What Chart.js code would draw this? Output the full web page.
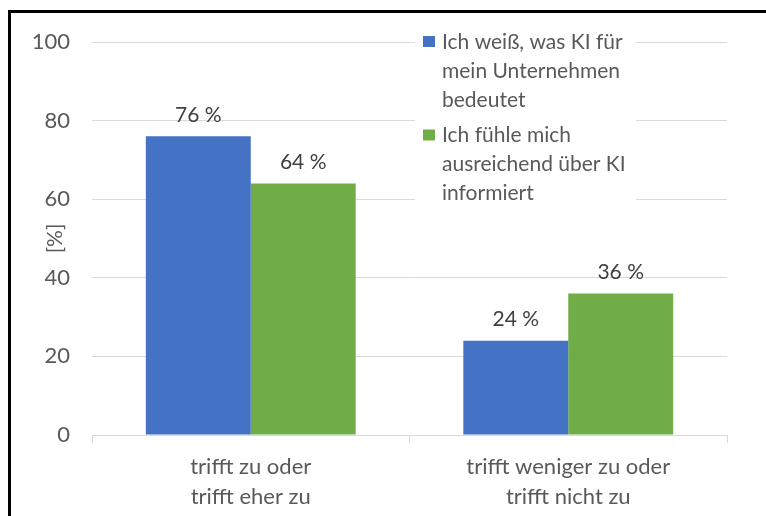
<!DOCTYPE html>
<html lang="de">
<head>
<meta charset="utf-8">
<title>KI im Unternehmen</title>
<script src="https://cdn.jsdelivr.net/npm/chart.js@4.4.1/dist/chart.umd.min.js"></script>
<style>
  html, body { margin: 0; padding: 0; background: #fff; }
  #buehne { position: relative; width: 766px; height: 516px; overflow: hidden; }
  #rahmen {
    position: absolute; left: 8px; top: 10px; width: 900px; height: 700px;
    border-left: 3px solid #000; border-top: 3px solid #000;
  }
  #grafik { position: absolute; left: 0; top: 0; }
</style>
</head>
<body>
<div id="buehne">
  <div id="rahmen"></div>
  <canvas id="grafik" width="766" height="516"></canvas>
</div>
<script>
// ---- Daten ----
const KATEGORIEN = [
  ['trifft zu oder', 'trifft eher zu'],
  ['trifft weniger zu oder', 'trifft nicht zu'],
];
const SERIEN = [
  ['Ich weiß, was KI für', 'mein Unternehmen', 'bedeutet'],
  ['Ich fühle mich', 'ausreichend über KI', 'informiert'],
];
const WERTE_WISSEN    = [76, 24];
const WERTE_INFORMIERT = [64, 36];
const Y_TICKS = [0, 20, 40, 60, 80, 100];

const BLAU  = '#4472C4';
const GRUEN = '#70AD47';
const TEXT  = '#595959';
const GITTER = '#D9D9D9';
const SCHRIFT = 'Lato, "Open Sans", sans-serif';

Chart.defaults.font.family = SCHRIFT;
Chart.defaults.color = TEXT;

// ---- Beschriftungen über den Balken ----
const wertLabels = {
  id: 'wertLabels',
  afterDatasetsDraw(chart) {
    const ctx = chart.ctx;
    ctx.save();
    ctx.font = `21px ${SCHRIFT}`;
    ctx.fillStyle = '#404040';
    ctx.textAlign = 'center';
    ctx.textBaseline = 'middle';
    chart.data.datasets.forEach((ds, i) => {
      chart.getDatasetMeta(i).data.forEach((bar, j) => {
        ctx.fillText(`${ds.data[j]} %`, bar.x, bar.y - 21);
      });
    });
    ctx.restore();
  }
};

// ---- Legende im Diagramm + Achsentitel ----
const legendeInnen = {
  id: 'legendeInnen',
  afterDatasetsDraw(chart) {
    const { ctx, chartArea } = chart;
    const x0 = chartArea.left + 323;
    const y0 = chartArea.top;
    ctx.save();
    ctx.fillStyle = '#fff';
    ctx.fillRect(x0, y0 - 14, 221, 178);

    ctx.font = `21px ${SCHRIFT}`;
    ctx.textAlign = 'left';
    ctx.textBaseline = 'middle';
    let y = y0;
    chart.data.datasets.forEach((ds, i) => {
      ctx.fillStyle = ds.backgroundColor;
      ctx.fillRect(x0 + 8, y - 6, 12, 11);
      ctx.fillStyle = TEXT;
      SERIEN[i].forEach((zeile, k) => {
        ctx.fillText(zeile, x0 + 27, y + k * 29);
      });
      y += (SERIEN[i].length - 1) * 29 + 35.5;
    });

    // Achsentitel [%]
    ctx.translate(chartArea.left - 37, (chartArea.top + chartArea.bottom) / 2);
    ctx.rotate(-Math.PI / 2);
    ctx.textAlign = 'center';
    ctx.font = `21px ${SCHRIFT}`;
    ctx.fillStyle = TEXT;
    ctx.fillText('[%]', 0, 0);
    ctx.restore();
  }
};

new Chart(document.getElementById('grafik'), {
  type: 'bar',
  data: {
    labels: KATEGORIEN,
    datasets: [
      { label: SERIEN[0].join(' '), data: WERTE_WISSEN, backgroundColor: BLAU,
        categoryPercentage: 0.661, barPercentage: 1.0 },
      { label: SERIEN[1].join(' '), data: WERTE_INFORMIERT, backgroundColor: GRUEN,
        categoryPercentage: 0.661, barPercentage: 1.0 },
    ]
  },
  options: {
    responsive: false,
    animation: false,
    layout: { padding: { left: 0, right: 39, top: 42, bottom: 0 } },
    plugins: { legend: { display: false }, tooltip: { enabled: false } },
    scales: {
      x: {
        offset: true,
        grid: { offset: true, drawOnChartArea: false, drawTicks: true, tickLength: 8, color: GITTER },
        border: { display: true, color: GITTER, width: 1 },
        ticks: { font: { size: 22, lineHeight: '30px' }, color: TEXT, padding: 9, maxRotation: 0 },
        afterFit: s => { s.height = 81; }
      },
      y: {
        min: 0, max: 100,
        afterBuildTicks: s => { s.ticks = Y_TICKS.map(v => ({ value: v })); },
        grid: { color: GITTER, drawTicks: false },
        border: { display: false },
        ticks: { font: { size: 22 }, color: TEXT, padding: 22 },
        afterFit: s => { s.width = 92; }
      }
    }
  },
  plugins: [legendeInnen, wertLabels]
});
</script>
</body>
</html>
